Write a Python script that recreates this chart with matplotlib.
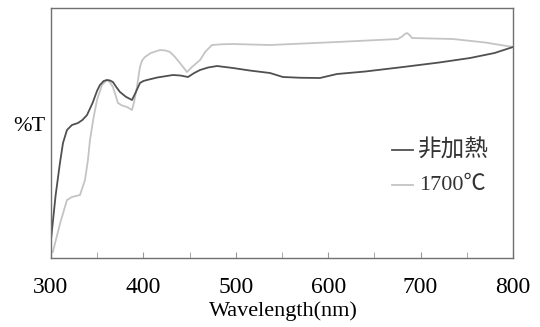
import numpy as np
import matplotlib
matplotlib.use("Agg")
import matplotlib.pyplot as plt
from matplotlib.ticker import MultipleLocator

plt.rcParams['font.family'] = ['Liberation Serif', 'Noto Sans CJK JP', 'DejaVu Sans']

# 非加熱 (unheated) transmittance spectrum
wl_raw = [300, 305, 309.7, 313, 317.3, 322.7, 329.2, 334, 339, 345, 350, 353,
          357, 360.6, 364, 367, 371, 374.7, 381, 387.7, 392, 396.3, 400,
          403.9, 415, 432, 440, 448.3, 455, 461.3, 470, 479.7, 497, 515,
          537, 551, 570, 591, 609.5, 640, 681, 720, 753.5, 780, 800]
t_raw = [7.2, 25, 38, 46, 51.2, 53.2, 54, 55.2, 57.2, 62, 67, 69.2,
         70.8, 71.2, 71, 70.4, 68.2, 66.4, 64.5, 63.2, 66.5, 70, 70.8,
         71.2, 72.2, 73.2, 73, 72.4, 74, 75.2, 76.2, 76.8, 76, 75,
         74, 72.4, 72.1, 72, 73.6, 74.6, 76.4, 78.2, 80, 82, 84.4]

# 1700℃ heated sample
wl_1700 = [302, 310, 317.3, 322.7, 331.4, 336.8, 340, 342.2, 346, 349.8,
           355.2, 360.6, 364, 367, 370, 372.5, 377, 382.3, 387.7, 390,
           393, 396.3, 398.5, 401.7, 408, 418, 424, 428.8, 434, 439.6,
           447.2, 452.6, 461.3, 467, 474.2, 485, 497, 537, 609.5, 675.5,
           680, 683, 685.3, 688, 690.7, 735, 770, 800]
t_1700 = [2.4, 14, 23.2, 24.4, 25.2, 31.2, 39.2, 47.2, 56, 63.2,
          69.2, 71.2, 70.2, 68.4, 65, 62, 61, 60.4, 59.2, 62.5,
          68.4, 76.4, 79, 80.4, 82, 83.2, 83, 82.4, 80.5, 78,
          74.4, 76.4, 79.2, 82.5, 85.2, 85.5, 85.6, 85.2, 86.4, 87.6,
          88.6, 89.6, 90, 89.2, 88, 87.6, 86.2, 84.4]

fig = plt.figure(figsize=(5.4, 3.27), dpi=100)
ax = fig.add_axes([0.0944, 0.211, 0.8556, 0.7645])

ax.plot(wl_1700, t_1700, color='#c4c4c4', lw=1.3)
ax.plot(wl_raw, t_raw, color='#505050', lw=1.3)

ax.set_xlim(300, 800)
ax.set_ylim(0, 100)
ax.xaxis.set_major_locator(MultipleLocator(100))
ax.xaxis.set_minor_locator(MultipleLocator(50))
ax.tick_params(axis='x', which='both', direction='in', length=4,
               color='#999999', labelsize=17, pad=14)
ax.set_yticks([])
for s in ax.spines.values():
    s.set_color('#707070')
    s.set_linewidth(1.0)

fig.text(0.524, 0.048, 'Wavelength(nm)', ha='center', va='center', fontsize=16)
fig.text(0.024, 0.612, '%T', ha='left', va='center', fontsize=16)

# legend drawn by hand: short line + label
ax.plot([0.738, 0.784], [0.432, 0.432], transform=ax.transAxes, color='#505050', lw=1.3)
ax.text(0.792, 0.432, '非加熱', transform=ax.transAxes, ha='left', va='center',
        fontsize=17, family=['Noto Sans CJK JP', 'DejaVu Sans'], color='#333333')
ax.plot([0.738, 0.784], [0.292, 0.292], transform=ax.transAxes, color='#c4c4c4', lw=1.3)
ax.text(0.797, 0.292, '1700℃', transform=ax.transAxes, ha='left', va='center',
        fontsize=16, family=['Liberation Serif', 'Noto Sans CJK JP'], color='#333333')

fig.savefig('out.png', dpi=100)
